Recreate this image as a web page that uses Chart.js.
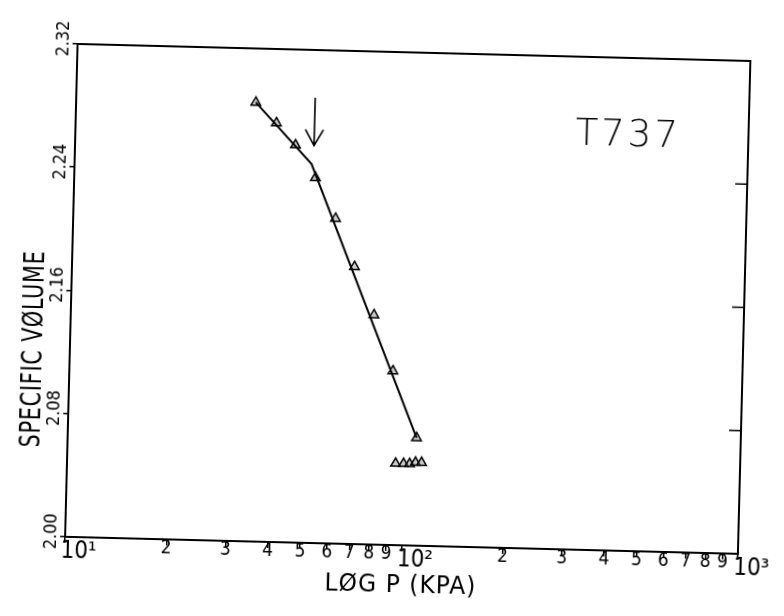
<!DOCTYPE html>
<html>
<head>
<meta charset="utf-8">
<script src="https://cdn.jsdelivr.net/npm/chart.js@4.4.0/dist/chart.umd.min.js"></script>
<style>
  html, body { margin: 0; padding: 0; background: #fff; overflow: hidden; }
  /* the scanned plot sits a little skewed on the page */
  #wrap { width: 784px; height: 616px; transform: rotate(1.45deg); transform-origin: 392px 308px; }
</style>
</head>
<body>
<div id="wrap"><canvas id="chart" width="784" height="616"></canvas></div>
<script>
// measured points, pressure in kPa
const pressure = [34.2, 39.5, 45.2, 52.1, 60.2, 69.1, 79.6, 91.5, 108.8, 94.7, 100.0, 104.2, 108.5, 113.1];
const volume = [2.285, 2.272, 2.258, 2.237, 2.211, 2.180, 2.149, 2.113, 2.070, 2.053, 2.053, 2.053, 2.054, 2.054];

// two fitted straight lines meeting at the break
const fitPressure = [34.2, 50.6, 108.8];
const fitVolume = [2.285, 2.246, 2.070];

const xTicks = [10, 20, 30, 40, 50, 60, 70, 80, 90, 100, 200, 300, 400, 500, 600, 700, 800, 900, 1000];
const xTickLabels = ['10¹', '2', '3', '4', '5', '6', '7', '8', '9', '10²', '2', '3', '4', '5', '6', '7', '8', '9', '10³'];
const yTicks = [2.00, 2.08, 2.16, 2.24, 2.32];
const yTickLabels = ['2.00', '2.08', '2.16', '2.24', '2.32'];

// arrow marking the break point
const arrowPressure = 51.3;
const arrowFrom = 2.289;
const arrowTo = 2.258;
const tag = 'T737';

const FONT = "'DejaVu Sans Condensed', 'DejaVu Sans', sans-serif";
const isPower = v => v === 10 || v === 100 || v === 1000;

// plotter lettering is tall and narrow: squeeze text to a given length
function fittedText(ctx, text, x, y, len, angle) {
    const w = ctx.measureText(text).width;
    ctx.save();
    ctx.translate(x, y);
    ctx.rotate(angle);
    ctx.scale(len / w, 1);
    ctx.textAlign = 'center';
    ctx.fillText(text, 0, 0);
    ctx.restore();
}

const decor = {
    id: 'decor',
    afterDraw(chart) {
        const { ctx, chartArea: a, scales: { x, y } } = chart;
        ctx.save();
        ctx.strokeStyle = '#000';
        ctx.fillStyle = '#000';

        // frame
        ctx.lineWidth = 2;
        ctx.strokeRect(a.left, a.top, a.right - a.left, a.bottom - a.top);

        // inward ticks on the right edge
        ctx.lineWidth = 1.5;
        yTicks.slice(1, -1).forEach(v => {
            const py = y.getPixelForValue(v);
            ctx.beginPath();
            ctx.moveTo(a.right, py);
            ctx.lineTo(a.right - 12, py);
            ctx.stroke();
        });

        // y tick labels, rotated, decimal point on the tick
        ctx.font = '18px ' + FONT;
        yTickLabels.forEach((t, i) => {
            const py = y.getPixelForValue(yTicks[i]);
            const lead = ctx.measureText(t[0]).width + ctx.measureText('.').width / 2;
            ctx.save();
            ctx.translate(a.left - 9, py);
            ctx.rotate(-Math.PI / 2);
            ctx.textAlign = 'left';
            ctx.fillText(t, -lead, 0);
            ctx.restore();
        });

        // axis titles
        ctx.letterSpacing = '1px';
        ctx.font = '29px ' + FONT;
        fittedText(ctx, 'SPECIFIC VØLUME', 43, 358, 197, -Math.PI / 2);
        ctx.font = '25px ' + FONT;
        fittedText(ctx, 'LØG P (KPA)', (a.left + a.right) / 2, a.bottom + 47, 152, 0);

        // sample tag
        ctx.letterSpacing = '3px';
        ctx.textAlign = 'left';
        ctx.font = "200 37px 'DejaVu Sans', sans-serif";
        ctx.fillText(tag, a.left + 500, a.top + 88);

        // arrow
        const px = x.getPixelForValue(arrowPressure);
        const y1 = y.getPixelForValue(arrowFrom);
        const y2 = y.getPixelForValue(arrowTo);
        ctx.lineWidth = 1.6;
        ctx.beginPath();
        ctx.moveTo(px, y1);
        ctx.lineTo(px, y2);
        ctx.moveTo(px - 9, y2 - 16);
        ctx.lineTo(px, y2);
        ctx.lineTo(px + 9, y2 - 16);
        ctx.stroke();
        ctx.restore();
    }
};

new Chart(document.getElementById('chart'), {
    type: 'scatter',
    data: {
        datasets: [
            {
                label: 'fit',
                data: fitPressure.map((p, i) => ({ x: p, y: fitVolume[i] })),
                showLine: true,
                borderColor: '#000',
                borderWidth: 2,
                pointRadius: 0,
                tension: 0
            },
            {
                label: 'measured',
                data: pressure.map((p, i) => ({ x: p, y: volume[i] })),
                pointStyle: 'triangle',
                pointRadius: 5.5,
                borderWidth: 1.5,
                borderColor: '#000',
                backgroundColor: 'rgba(140,140,140,0.45)'
            }
        ]
    },
    options: {
        responsive: false,
        animation: false,
        devicePixelRatio: 1,
        layout: { padding: { top: 52, right: 40, left: 0, bottom: 0 } },
        plugins: { legend: { display: false }, tooltip: { enabled: false } },
        scales: {
            x: {
                type: 'logarithmic',
                min: 10,
                max: 1000,
                afterBuildTicks: s => { s.ticks = xTicks.map(v => ({ value: v })); },
                afterFit: s => { s.height = 71; },
                grid: { drawOnChartArea: false, drawTicks: true, tickLength: 6, color: '#000', lineWidth: 1.5 },
                border: { display: true, color: '#000', width: 2 },
                ticks: {
                    autoSkip: false,
                    maxRotation: 0,
                    minRotation: 0,
                    padding: 0,
                    color: '#000',
                    font: c => isPower(c.tick && c.tick.value)
                        ? { family: FONT, size: 24, lineHeight: '6px' }
                        : { family: FONT, size: 19, lineHeight: '6px' },
                    callback: (v, i) => {
                        const t = xTickLabels[i];
                        return t.startsWith('10') ? ['', '    ' + t] : t;
                    }
                }
            },
            y: {
                min: 2.00,
                max: 2.32,
                afterBuildTicks: s => { s.ticks = yTicks.map(v => ({ value: v })); },
                afterFit: s => { s.width = 71; },
                grid: { drawOnChartArea: false, drawTicks: true, tickLength: 5, color: '#000', lineWidth: 1.5 },
                border: { display: true, color: '#000', width: 2 },
                ticks: { display: false }
            }
        }
    },
    plugins: [decor]
});
</script>
</body>
</html>
